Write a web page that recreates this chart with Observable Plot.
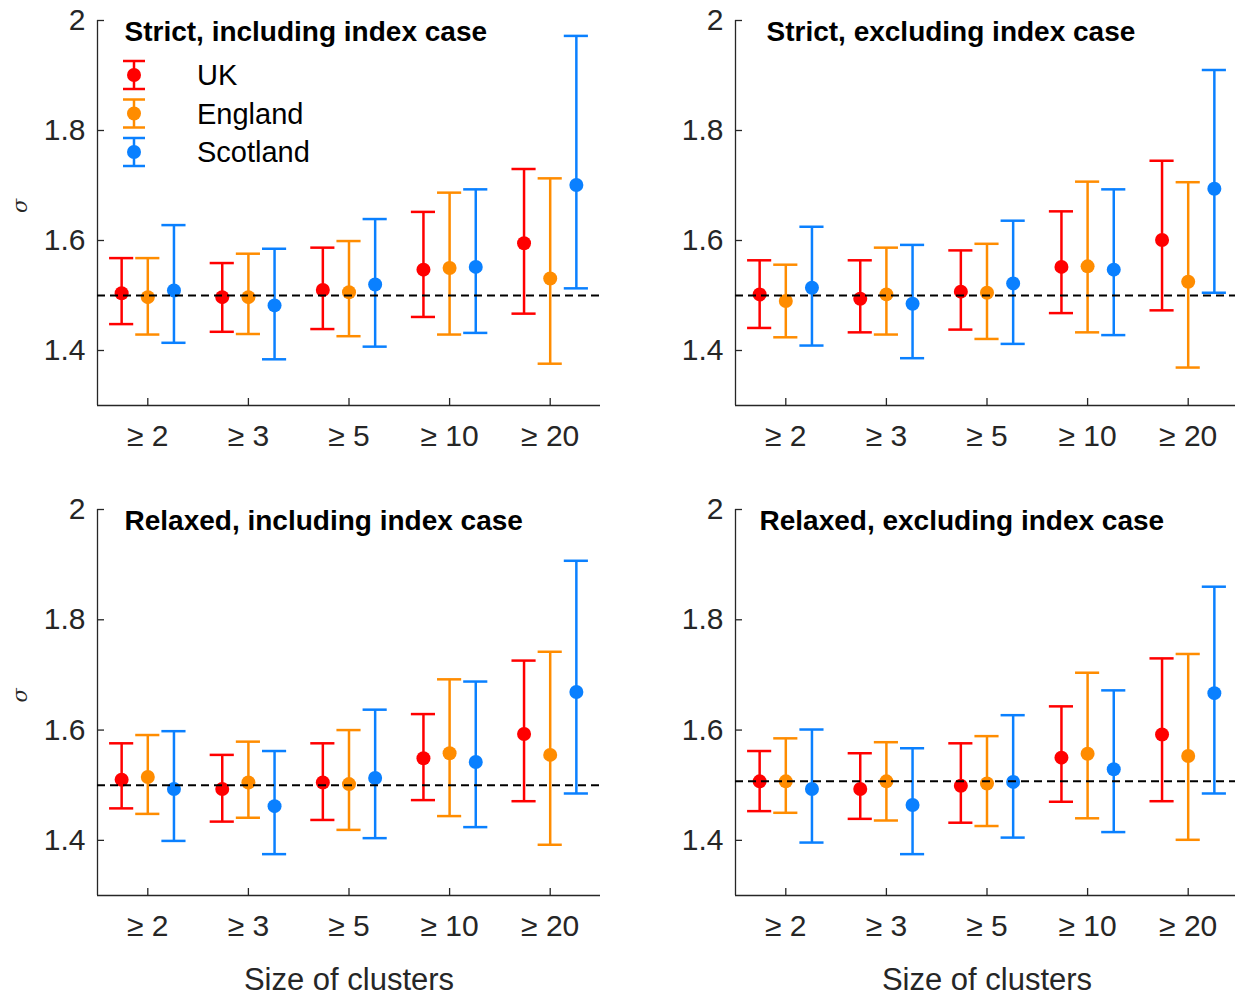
<!DOCTYPE html>
<html><head><meta charset="utf-8">
<script src="https://cdn.jsdelivr.net/npm/d3@7"></script>
<script src="https://cdn.jsdelivr.net/npm/@observablehq/plot@0.6"></script>
<style>
body{margin:0;background:#fff;}
#fig{position:relative;width:1235px;height:998px;overflow:hidden;background:#fff;font-family:"Liberation Sans",Arial,sans-serif;}
.panel{position:absolute;}
.panel svg{max-width:none !important;}
</style></head><body><div id="fig"></div>
<script>
// ---- data ----
const categories = ["≥ 2", "≥ 3", "≥ 5", "≥ 10", "≥ 20"];
const series = ["UK", "England", "Scotland"];
const seriesColors = ["#ff0000", "#ff8c00", "#0a80ff"];
const yTicks = [1.4, 1.6, 1.8, 2];
const panelTitles = ["Strict, including index case", "Strict, excluding index case", "Relaxed, including index case", "Relaxed, excluding index case"];
const refLines = [1.5, 1.5, 1.5, 1.507];

// rows: UK, England, Scotland ; columns: categories
const strictInclMean = [[1.504,1.497,1.510,1.547,1.595],[1.497,1.497,1.506,1.550,1.531],[1.509,1.482,1.520,1.552,1.701]];
const strictInclLow  = [[1.448,1.434,1.439,1.461,1.467],[1.429,1.430,1.426,1.429,1.376],[1.414,1.384,1.407,1.432,1.513]];
const strictInclHigh = [[1.568,1.559,1.587,1.652,1.730],[1.568,1.576,1.599,1.687,1.713],[1.628,1.585,1.639,1.693,1.972]];

const strictExclMean = [[1.502,1.494,1.507,1.552,1.601],[1.490,1.502,1.505,1.553,1.525],[1.514,1.485,1.522,1.547,1.694]];
const strictExclLow  = [[1.441,1.433,1.438,1.468,1.473],[1.424,1.429,1.421,1.433,1.369],[1.409,1.386,1.412,1.428,1.505]];
const strictExclHigh = [[1.564,1.564,1.582,1.653,1.745],[1.556,1.587,1.594,1.707,1.706],[1.625,1.592,1.636,1.693,1.910]];

const relaxedInclMean = [[1.510,1.493,1.505,1.549,1.593],[1.515,1.505,1.502,1.558,1.555],[1.493,1.462,1.513,1.542,1.669]];
const relaxedInclLow  = [[1.458,1.434,1.437,1.473,1.471],[1.448,1.441,1.419,1.444,1.392],[1.399,1.375,1.404,1.424,1.485]];
const relaxedInclHigh = [[1.576,1.555,1.576,1.629,1.726],[1.591,1.579,1.600,1.692,1.742],[1.598,1.562,1.637,1.688,1.907]];

const relaxedExclMean = [[1.507,1.493,1.499,1.550,1.592],[1.507,1.507,1.503,1.557,1.553],[1.493,1.464,1.506,1.529,1.667]];
const relaxedExclLow  = [[1.453,1.439,1.432,1.470,1.471],[1.450,1.436,1.426,1.440,1.401],[1.396,1.375,1.405,1.415,1.485]];
const relaxedExclHigh = [[1.562,1.558,1.576,1.643,1.730],[1.585,1.578,1.589,1.704,1.738],[1.601,1.567,1.627,1.672,1.860]];

const panelData = [
  [strictInclMean, strictInclLow, strictInclHigh],
  [strictExclMean, strictExclLow, strictExclHigh],
  [relaxedInclMean, relaxedInclLow, relaxedInclHigh],
  [relaxedExclMean, relaxedExclLow, relaxedExclHigh]
];

// ---- layout ----
const fig = document.getElementById("fig");
const INK = "#262626";
const FONT = "Liberation Sans, Arial, sans-serif";
const DODGE = 0.26, CAP = 0.12;
const layouts = [
  {left: 0,   top: 0,   width: 620, height: 470, mL: 97,  mR: 20, mT: 20, mB: 65,  sigma: true,  xlabel: false, tdx: 27},
  {left: 620, top: 0,   width: 640, height: 470, mL: 115, mR: 22, mT: 20, mB: 65,  sigma: false, xlabel: false, tdx: 31},
  {left: 0,   top: 490, width: 620, height: 508, mL: 97,  mR: 20, mT: 19, mB: 103, sigma: true,  xlabel: true,  tdx: 27},
  {left: 620, top: 490, width: 640, height: 508, mL: 115, mR: 22, mT: 19, mB: 103, sigma: false, xlabel: true,  tdx: 24}
];

layouts.forEach((L, p) => {
  const [mean, low, high] = panelData[p];
  const rows = [];
  series.forEach((s, si) => categories.forEach((c, ci) => {
    rows.push({series: s, x: ci + 1 + (si - 1) * DODGE, mean: mean[si][ci], lo: low[si][ci], hi: high[si][ci]});
  }));
  const plotW = L.width - L.mL - L.mR;
  const plotH = L.height - L.mT - L.mB;
  const marks = [
    Plot.ruleX([0.5], {stroke: INK, strokeWidth: 1.3}),
    Plot.ruleY([1.3], {stroke: INK, strokeWidth: 1.3}),
    Plot.ruleX([1, 2, 3, 4, 5], {x: d => d, insetTop: plotH - 7, stroke: INK, strokeWidth: 1.3}),
    Plot.ruleY(yTicks, {y: d => d, insetRight: plotW - 7, stroke: INK, strokeWidth: 1.3}),
    Plot.axisX({ticks: [1, 2, 3, 4, 5], tickFormat: d => categories[d - 1], tickSize: 0, tickPadding: 19,
      label: null, fontSize: 30, fill: INK, fontFamily: FONT}),
    Plot.axisY({ticks: yTicks, tickFormat: d => d === 2 ? "2" : d.toFixed(1), tickSize: 0, tickPadding: 12,
      label: null, fontSize: 30, fill: INK, fontFamily: FONT}),
    Plot.ruleX(rows, {x: "x", y1: "lo", y2: "hi", stroke: "series", strokeWidth: 2.5}),
    Plot.ruleY(rows, {y: "hi", x1: d => d.x - CAP, x2: d => d.x + CAP, stroke: "series", strokeWidth: 2.5}),
    Plot.ruleY(rows, {y: "lo", x1: d => d.x - CAP, x2: d => d.x + CAP, stroke: "series", strokeWidth: 2.5}),
    Plot.dot(rows, {x: "x", y: "mean", r: 7, fill: "series"}),
    Plot.ruleY([refLines[p]], {stroke: "#000", strokeWidth: 2, strokeDasharray: "8,5"}),
    Plot.text([panelTitles[p]], {frameAnchor: "top-left", textAnchor: "start", lineAnchor: "middle",
      dx: L.tdx, dy: 12, fontSize: 28, fontWeight: "bold", fill: "#000", fontFamily: FONT})
  ];
  if (L.sigma) marks.push(Plot.text(["σ"], {frameAnchor: "left", dx: -77, rotate: -90, fontSize: 21,
    fontStyle: "italic", fill: INK, fontFamily: "DejaVu Serif, serif"}));
  if (L.xlabel) marks.push(Plot.text(["Size of clusters"], {frameAnchor: "bottom", dy: 94, fontSize: 31,
    fill: INK, fontFamily: FONT}));
  const chart = Plot.plot({
    width: L.width, height: L.height,
    marginLeft: L.mL, marginRight: L.mR, marginTop: L.mT, marginBottom: L.mB,
    x: {domain: [0.5, 5.5]},
    y: {domain: [1.3, 2.0]},
    color: {domain: series, range: seriesColors},
    style: {fontFamily: FONT, background: "transparent", overflow: "visible", maxWidth: "none"},
    marks
  });
  const div = document.createElement("div");
  div.className = "panel";
  div.style.left = L.left + "px";
  div.style.top = L.top + "px";
  div.style.width = L.width + "px";
  div.style.height = L.height + "px";
  div.appendChild(chart);
  fig.appendChild(div);
});

// ---- legend (top-left panel) ----
const NS = "http://www.w3.org/2000/svg";
const leg = document.createElementNS(NS, "svg");
leg.setAttribute("width", 220); leg.setAttribute("height", 130);
leg.style.position = "absolute"; leg.style.left = "115px"; leg.style.top = "50px";
series.forEach((s, i) => {
  const cy = 25 + i * 38.5, cx = 19;
  const col = seriesColors[i];
  const add = (tag, attrs) => { const e = document.createElementNS(NS, tag); for (const k in attrs) e.setAttribute(k, attrs[k]); leg.appendChild(e); return e; };
  add("line", {x1: cx, x2: cx, y1: cy - 14, y2: cy + 14, stroke: col, "stroke-width": 2.5});
  add("line", {x1: cx - 11, x2: cx + 11, y1: cy - 14, y2: cy - 14, stroke: col, "stroke-width": 2.5});
  add("line", {x1: cx - 11, x2: cx + 11, y1: cy + 14, y2: cy + 14, stroke: col, "stroke-width": 2.5});
  add("circle", {cx, cy, r: 7, fill: col});
  const t = add("text", {x: 82, y: cy, "dominant-baseline": "central", "font-size": 29, fill: "#000", "font-family": FONT});
  t.textContent = s;
});
fig.appendChild(leg);
</script></body></html>
